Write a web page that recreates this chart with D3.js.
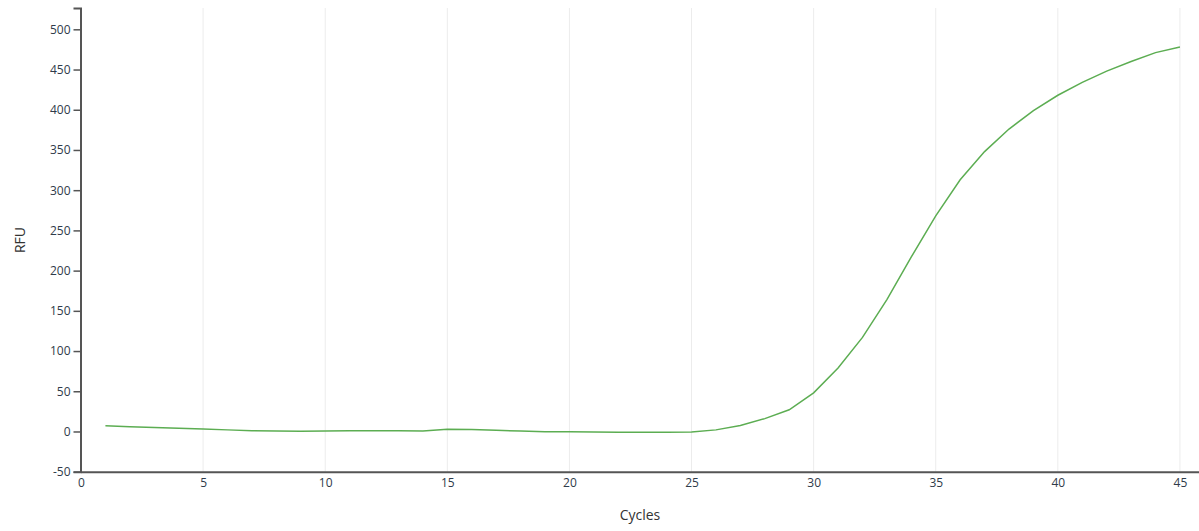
<!DOCTYPE html>
<html>
<head>
<meta charset="utf-8">
<script src="https://cdn.jsdelivr.net/npm/d3@7"></script>
<style>
  html, body { margin: 0; padding: 0; background: #fff; }
  svg { display: block; font-family: "Open Sans", "Noto Sans", sans-serif; }
</style>
</head>
<body>
<svg id="chart" width="1199" height="531"></svg>
<script>
const cycles = d3.range(1, 46);
const rfu = [7, 6, 5, 4, 3, 2, 1, 0.5, 0.3, 0.5,
             0.8, 1, 0.8, 0.6, 2.7, 2.5, 1.5, 0.5, -0.2, -0.4,
             -0.7, -1, -1, -1, -0.5, 2, 7.5, 16, 27, 48,
             79, 117, 164, 217, 268, 313, 348, 376, 399, 418,
             434, 448, 460, 471, 478];
const xTicks = [0, 5, 10, 15, 20, 25, 30, 35, 40, 45];
const yTicks = [-50, 0, 50, 100, 150, 200, 250, 300, 350, 400, 450, 500];

const svg = d3.select("#chart");
const x = d3.scaleLinear().domain([0, 45.78]).range([81, 1199]);
const y = d3.scaleLinear().domain([-50, 526.5]).range([471.7, 8]);

// gridlines
svg.append("g").selectAll("line").data(xTicks.filter(d => d > 0)).join("line")
  .attr("x1", d => x(d)).attr("x2", d => x(d))
  .attr("y1", y(526.5)).attr("y2", y(-50))
  .attr("stroke", "#ececec").attr("stroke-width", 1);

// line
const line = d3.line().x((d, i) => x(cycles[i])).y(d => y(d));
svg.append("path").datum(rfu)
  .attr("d", line)
  .attr("fill", "none")
  .attr("stroke", "#5cad52")
  .attr("stroke-width", 1.5);

// y axis
const yAxis = svg.append("g").attr("transform", "translate(80.5,0)")
  .call(d3.axisLeft(y).tickValues(yTicks).tickFormat(d => String(d))
    .tickSize(7).tickSizeOuter(7).tickPadding(3));
yAxis.select(".domain").attr("stroke", "#555").attr("stroke-width", 2);
yAxis.selectAll(".tick line").attr("stroke", "#555").attr("stroke-width", 1.5);
yAxis.selectAll(".tick text").attr("fill", "#2f3b4a").style("font-size", "12px")
  .style("font-family", "'Open Sans', sans-serif");

// x axis
const xAxis = svg.append("g").attr("transform", "translate(0,471.7)")
  .call(d3.axisBottom(x).tickValues(xTicks).tickFormat(d => String(d))
    .tickSize(0).tickSizeOuter(0).tickPadding(7));
xAxis.select(".domain").attr("stroke", "#555").attr("stroke-width", 2);
xAxis.selectAll(".tick text").attr("fill", "#2f3b4a").style("font-size", "12px")
  .style("font-family", "'Open Sans', sans-serif");

// titles
svg.append("text").attr("x", 640).attr("y", 520).attr("text-anchor", "middle")
  .attr("fill", "#333").style("font-size", "14px").text("Cycles");
svg.append("text").attr("transform", "translate(25,240) rotate(-90)")
  .attr("text-anchor", "middle").attr("fill", "#333").style("font-size", "14px").text("RFU");
</script>
</body>
</html>
